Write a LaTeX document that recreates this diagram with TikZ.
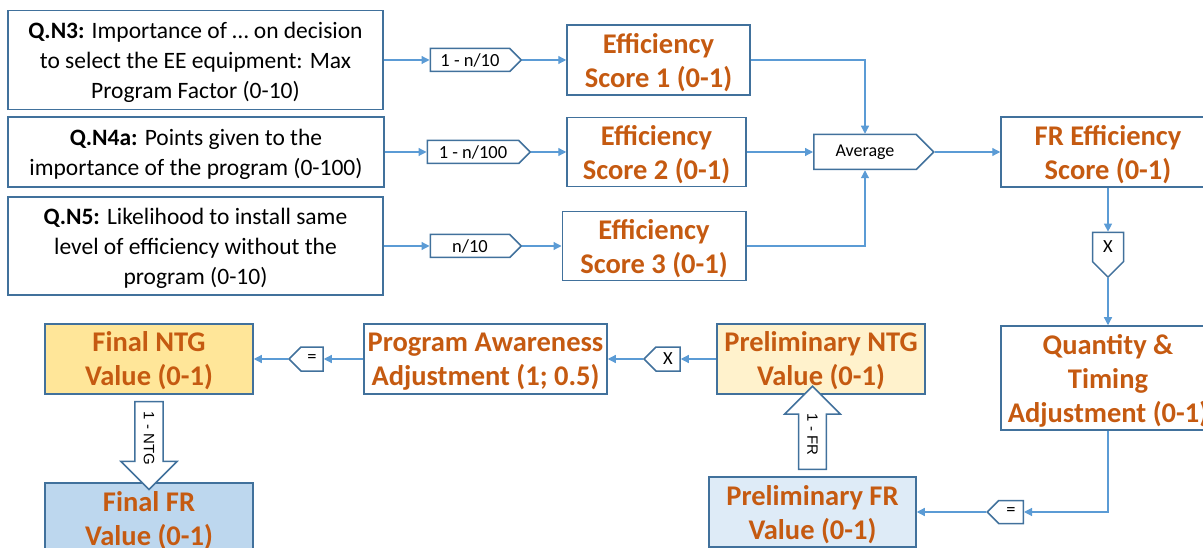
\documentclass[tikz,border=0pt]{standalone}
\usepackage{fontspec}
\setmainfont{Carlito}
\newfontfamily\arrowfont{Liberation Sans}
\usetikzlibrary{arrows.meta, positioning, calc, shapes.symbols, shapes.arrows}
\definecolor{boxline}{HTML}{41719C}
\definecolor{linkblue}{HTML}{5B9BD5}
\definecolor{titleorange}{HTML}{C55A11}
\definecolor{ntgfinal}{HTML}{FFE699}
\definecolor{ntgprelim}{HTML}{FFF2CC}
\definecolor{frfinal}{HTML}{BDD7EE}
\definecolor{frprelim}{HTML}{DEEBF7}
\tikzset{
  question/.style={
    rectangle,
    draw=boxline,
    line width=1.5pt,
    align=center,
    inner sep=2pt,
    text depth=0pt,
    font=\fontsize{23.5}{30}\selectfont
  },
  result/.style={
    rectangle,
    draw=boxline,
    line width=1.5pt,
    align=center,
    inner sep=2pt,
    text depth=0pt,
    text=titleorange,
    font=\fontsize{28.5}{34}\selectfont\bfseries
  },
  tag/.style={
    signal,
    signal to=east,
    draw=boxline,
    line width=1.5pt,
    fill=white,
    inner sep=1pt,
    font=\fontsize{18.5}{20}\selectfont
  },
  bigarrow/.style={
    single arrow,
    draw=boxline,
    line width=1.5pt,
    fill=white,
    inner sep=8pt,
    single arrow head extend=14pt,
    font=\arrowfont\fontsize{15}{15}\selectfont
  },
  link/.style={
    draw=linkblue,
    line width=1.2pt,
    -{Triangle[length=8pt, width=8pt]}
  }
}

\begin{document}
\begin{tikzpicture}[x=1pt, y=-1pt]
    \useasboundingbox (0,0) rectangle (1203,548);

    % survey questions
    \node[question, minimum width=375pt, minimum height=99pt] (qthree) at (195.5,60) {\textbf{Q.N3:} Importance of … on decision\\to select the EE equipment: Max\\Program Factor (0-10)};
    \node[question, minimum width=376pt, minimum height=70pt] (qfour) at (196,152) {\textbf{Q.N4a:} Points given to the\\importance of the program (0-100)};
    \node[question, minimum width=375pt, minimum height=98pt] (qfive) at (195.5,246) {\textbf{Q.N5:} Likelihood to install same\\level of efficiency without the\\program (0-10)};

    % conversions
    \node[tag, minimum width=91pt, minimum height=23pt] (convone) at (470,60) {1 - n/10};
    \node[tag, minimum width=103pt, minimum height=23pt] (convtwo) at (473,152) {1 - n/100};
    \node[tag, minimum width=91pt, minimum height=23pt] (convthree) at (470,246) {n/10};

    % efficiency scores
    \node[result, minimum width=183pt, minimum height=70pt] (effone) at (658.5,60) {Efficiency\\Score 1 (0-1)};
    \node[result, minimum width=179pt, minimum height=69pt] (efftwo) at (656.5,152) {Efficiency\\Score 2 (0-1)};
    \node[result, minimum width=183.5pt, minimum height=69pt] (effthree) at (654,246) {Efficiency\\Score 3 (0-1)};
    \node[tag, font=\fontsize{18}{20}\selectfont, minimum width=120pt, minimum height=35pt] (avg) at (865,152) {Average};
    \node[result, minimum width=214pt, minimum height=70pt] (freff) at (1108,152) {FR Efficiency\\Score (0-1)};

    % adjustments
    \node[tag, signal to=south, minimum width=31pt, minimum height=35pt] (mulone) at (1108,247) {X};
    \node[result, minimum width=214pt, minimum height=104pt] (qty) at (1108,378) {Quantity \&\\Timing\\Adjustment (0-1)};
    \node[tag, signal to=west, minimum width=36pt, minimum height=23pt] (eqone) at (1011,512) {=};
    \node[result, fill=frprelim, minimum width=207pt, minimum height=70pt] (prefr) at (812.5,512) {Preliminary FR\\Value (0-1)};
    \node[result, fill=ntgprelim, minimum width=208pt, minimum height=70pt] (prentg) at (821,359) {Preliminary NTG\\Value (0-1)};
    \node[tag, signal to=west, minimum width=36pt, minimum height=24pt] (multwo) at (668,359) {X};
    \node[result, minimum width=243pt, minimum height=70pt] (aware) at (485.5,359) {Program Awareness\\Adjustment (1; 0.5)};
    \node[tag, signal to=west, minimum width=34pt, minimum height=24pt] (eqtwo) at (312,359) {=};
    \node[result, fill=ntgfinal, minimum width=208pt, minimum height=70pt] (finalntg) at (149,359) {Final NTG\\Value (0-1)};
    \node[result, fill=frfinal, minimum width=208pt, minimum height=70pt] (finalfr) at (149,518) {Final FR\\Value (0-1)};

    % block arrows
    \node[bigarrow, rotate=-90, minimum height=88pt, minimum width=55pt] (ntgarrow) at ($(finalntg.south)!0.5!(finalfr.north)$) {1 - NTG};
    \node[bigarrow, rotate=-90, shape border rotate=180, minimum height=83pt, minimum width=54pt] (frarrow) at ($(prefr.north)+(0,-41.5)$) {1 - FR};

    \draw[link] (qthree.east) -- (convone.west);
    \draw[link] (qfour.east) -- (convtwo.west);
    \draw[link] (qfive.east) -- (convthree.west);
    \draw[link] (convone.east) -- (effone.west);
    \draw[link] (convtwo.east) -- (efftwo.west);
    \draw[link] (convthree.east) -- (effthree.west);
    \draw[link] (effone.east) -| (avg.north);
    \draw[link] (efftwo.east) -- (avg.west);
    \draw[link] (effthree.east) -| (avg.south);
    \draw[link] (avg.east) -- (freff.west);
    \draw[link] (freff.south) -- (mulone.north);
    \draw[link] (mulone.south) -- (qty.north);
    \draw[link] (qty.south) |- (eqone.east);
    \draw[link] (eqone.west) -- (prefr.east);
    \draw[link] (prentg.west) -- (multwo.east);
    \draw[link] (multwo.west) -- (aware.east);
    \draw[link] (aware.west) -- (eqtwo.east);
    \draw[link] (eqtwo.west) -- (finalntg.east);
\end{tikzpicture}
\end{document}
